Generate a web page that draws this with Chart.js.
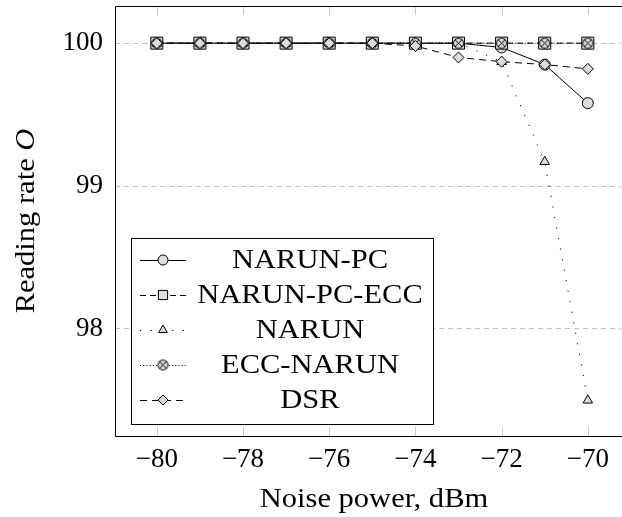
<!DOCTYPE html>
<html>
<head>
<meta charset="utf-8">
<script src="https://cdn.jsdelivr.net/npm/chart.js@4.4.1/dist/chart.umd.min.js"></script>
<style>
  html, body { margin: 0; padding: 0; background: #fff; }
  #wrap { width: 622px; height: 517px; }
</style>
</head>
<body>
<div id="wrap"><canvas id="rate-chart" width="622" height="517"></canvas></div>
<script>
// noise power sweep (dBm) and reading rate per scheme
const noisePower = [-80, -79, -78, -77, -76, -75, -74, -73, -72, -71, -70];
const narunPc    = [100, 100, 100, 100, 100, 100, 100, 100, 99.97, 99.85, 99.58];
const narunPcEcc = [100, 100, 100, 100, 100, 100, 100, 100, 100, 100, 100];
const narun      = [100, 100, 100, 100, 100, 100, 100, 100, 99.87, 99.17, 97.5];
const eccNarun   = [100, 100, 100, 100, 100, 100, 100, 100, 100, 100, 100];
const dsr        = [100, 100, 100, 100, 100, 100, 99.98, 99.9, 99.87, 99.85, 99.82];

const xTicks = [-80, -78, -76, -74, -72, -70];
const yTicks = [98, 99, 100];

const xTitle = 'Noise power, dBm';
const yTitle = 'Reading rate ';
const yTitleSymbol = 'O';

const FONT = '"Liberation Serif", "DejaVu Serif", serif';
const TEXT_SIZE = 27;
const STRETCH = 1.13;   // widen the serif glyphs a little
const markFill = '#dcdcdc';

// circle with a cross inside, used for ECC-NARUN
function otimes(r) {
    const c = document.createElement('canvas');
    const s = Math.ceil(r * 2 + 3);
    c.width = s; c.height = s;
    const g = c.getContext('2d');
    const m = s / 2;
    g.fillStyle = markFill;
    g.strokeStyle = '#000';
    g.lineWidth = 1;
    g.beginPath(); g.arc(m, m, r, 0, Math.PI * 2); g.fill(); g.stroke();
    const d = r * Math.SQRT1_2;
    g.beginPath();
    g.moveTo(m - d, m - d); g.lineTo(m + d, m + d);
    g.moveTo(m + d, m - d); g.lineTo(m - d, m + d);
    g.stroke();
    return c;
}
const otimesImg = otimes(5);

function series(label, data, dash, style, radius, legendRadius, order) {
    return {
        label: label,
        data: data,
        borderColor: '#000',
        borderWidth: 1,
        borderDash: dash,
        backgroundColor: markFill,
        pointStyle: style,
        pointRadius: radius,
        pointBorderWidth: 1,
        pointBorderColor: '#000',
        pointBackgroundColor: markFill,
        legendRadius: legendRadius,
        tension: 0,
        fill: false,
        order: order
    };
}

const datasets = [
    series('NARUN-PC', narunPc, [], 'circle', 5.5, 5, 5),
    series('NARUN-PC-ECC', narunPcEcc, [6, 4], 'rect', 8.5, 6.5, 4),
    series('NARUN', narun, [1.2, 9.5], 'triangle', 5.5, 5, 3),
    series('ECC-NARUN', eccNarun, [1, 2.2], otimesImg, 5, 5, 2),
    series('DSR', dsr, [7, 5], 'rectRot', 5.5, 5, 1)
];

function stretchedText(ctx, text, x, y) {
    ctx.save();
    ctx.translate(x, y);
    ctx.scale(STRETCH, 1);
    ctx.fillText(text, 0, 0);
    ctx.restore();
}

// frame, inward x ticks, axis titles and the boxed legend inside the plot
const framePlugin = {
    id: 'frame',
    beforeDatasetsDraw(chart) {
        const { ctx, chartArea: a, scales } = chart;
        ctx.save();
        ctx.strokeStyle = '#c8c8c8';
        ctx.lineWidth = 1;
        xTicks.forEach((v) => {
            const x = Math.round(scales.x.getPixelForValue(v)) + 0.5;
            ctx.beginPath();
            ctx.moveTo(x, a.bottom);
            ctx.lineTo(x, a.bottom - 9);
            ctx.moveTo(x, a.top);
            ctx.lineTo(x, a.top + 9);
            ctx.stroke();
        });
        ctx.restore();
    },
    afterDraw(chart) {
        const { ctx, chartArea: a } = chart;
        ctx.save();
        ctx.strokeStyle = '#000';
        ctx.lineWidth = 1;
        const l = Math.round(a.left) + 0.5, t = Math.round(a.top) + 0.5;
        const b = Math.round(a.bottom) + 0.5, r = Math.round(a.right) + 0.5;
        ctx.beginPath();
        ctx.moveTo(r + 2, t);
        ctx.lineTo(l, t);
        ctx.lineTo(l, b);
        ctx.lineTo(r + 2, b);
        ctx.stroke();

        // axis titles
        ctx.fillStyle = '#000';
        ctx.font = TEXT_SIZE + 'px ' + FONT;
        ctx.textAlign = 'center';
        ctx.textBaseline = 'alphabetic';
        stretchedText(ctx, xTitle, 374, 507);

        ctx.save();
        ctx.translate(34, 221);
        ctx.rotate(-Math.PI / 2);
        ctx.scale(STRETCH, 1);
        ctx.textAlign = 'left';
        const w1 = ctx.measureText(yTitle).width;
        ctx.font = 'italic ' + TEXT_SIZE + 'px ' + FONT;
        const w2 = ctx.measureText(yTitleSymbol).width;
        const x0 = -(w1 + w2) / 2;
        ctx.font = TEXT_SIZE + 'px ' + FONT;
        ctx.fillText(yTitle, x0, 0);
        ctx.font = 'italic ' + TEXT_SIZE + 'px ' + FONT;
        ctx.fillText(yTitleSymbol, x0 + w1, 0);
        ctx.restore();

        // legend box
        const bx = 131.5, by = 238.5, bw = 302, bh = 186;
        ctx.fillStyle = '#fff';
        ctx.fillRect(bx, by, bw, bh);
        ctx.strokeRect(bx, by, bw, bh);
        ctx.font = TEXT_SIZE + 'px ' + FONT;
        ctx.textAlign = 'center';
        ctx.textBaseline = 'middle';
        chart.data.datasets.forEach((ds, i) => {
            const y = 260 + i * 35;
            ctx.save();
            ctx.strokeStyle = '#000';
            ctx.lineWidth = 1;
            ctx.setLineDash(ds.borderDash);
            ctx.beginPath();
            ctx.moveTo(140, y + 0.5);
            ctx.lineTo(186, y + 0.5);
            ctx.stroke();
            ctx.restore();
            ctx.save();
            ctx.fillStyle = markFill;
            ctx.strokeStyle = '#000';
            ctx.lineWidth = 1;
            Chart.helpers.drawPoint(ctx, {
                pointStyle: ds.pointStyle,
                radius: ds.legendRadius,
                borderWidth: 1,
                rotation: 0
            }, 163, y);
            ctx.restore();
            ctx.fillStyle = '#000';
            stretchedText(ctx, ds.label, 310, y + 1);
        });
        ctx.restore();
    }
};

const ctx = document.getElementById('rate-chart').getContext('2d');
new Chart(ctx, {
    type: 'line',
    data: { labels: noisePower, datasets: datasets },
    plugins: [framePlugin],
    options: {
        responsive: false,
        animation: false,
        layout: {
            autoPadding: false,
            padding: { top: 6, right: 1, left: 0, bottom: 0 }
        },
        plugins: {
            legend: { display: false },
            tooltip: { enabled: false }
        },
        scales: {
            x: {
                type: 'linear',
                min: -80.97,
                max: -69.23,
                afterBuildTicks: (s) => { s.ticks = xTicks.map((v) => ({ value: v })); },
                afterFit: (s) => {
                    s.height = 81;
                    s.paddingLeft = 0;
                    s.paddingRight = 0;
                },
                grid: { display: false, drawTicks: false },
                border: { display: false },
                ticks: {
                    color: '#000',
                    font: { family: FONT, size: TEXT_SIZE },
                    padding: 8,
                    maxRotation: 0,
                    callback: (v) => String(v).replace('-', '\u2212')
                }
            },
            y: {
                min: 97.25,
                max: 100.26,
                afterBuildTicks: (s) => { s.ticks = yTicks.map((v) => ({ value: v })); },
                afterFit: (s) => {
                    s.width = 115;
                    s.paddingTop = 0;
                    s.paddingBottom = 0;
                },
                grid: {
                    color: '#c0c0c0',
                    lineWidth: 1,
                    drawTicks: false
                },
                border: { display: false, dash: [5, 4] },
                ticks: {
                    color: '#000',
                    font: { family: FONT, size: TEXT_SIZE },
                    padding: 12
                }
            }
        }
    }
});
</script>
</body>
</html>
